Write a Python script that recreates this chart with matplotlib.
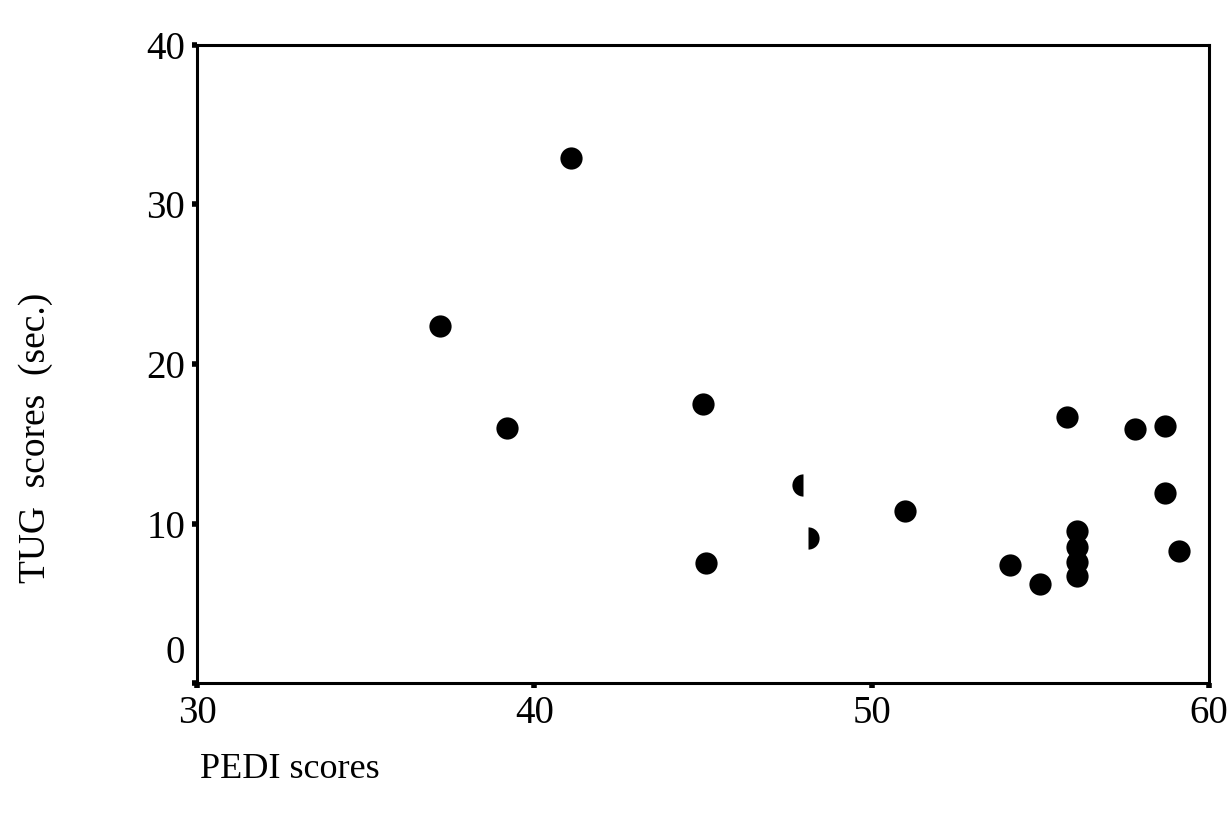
import matplotlib
matplotlib.use("Agg")
import matplotlib.pyplot as plt
import matplotlib.transforms as mtransforms

# PEDI vs TUG scores
pedi_full = [37.2, 39.2, 41.1, 45.0, 45.1, 51.0, 55.8, 57.8, 58.7, 58.7, 59.1,
             54.1, 55.0, 56.1, 56.1, 56.1, 56.1]
tug_full = [22.4, 16.0, 32.9, 17.5, 7.5, 10.8, 16.7, 15.9, 16.1, 11.9, 8.3,
            7.4, 6.2, 9.5, 8.5, 7.6, 6.7]
# two points only half printed in the scan
pedi_half = [47.97, 48.1]
tug_half = [12.4, 9.1]
half_side = ["left", "right"]

INK = "#000000"
plt.rcParams["font.family"] = ["Liberation Serif", "DejaVu Serif"]

fig = plt.figure(figsize=(12.27, 8.18), dpi=100)
ax = fig.add_axes([197 / 1227, 1 - 683 / 818, (1209 - 197) / 1227, (683 - 45) / 818])

ax.plot(pedi_full, tug_full, "o", color=INK, markersize=16, markeredgewidth=0, linestyle="none")
for x, y, side in zip(pedi_half, tug_half, half_side):
    ax.plot([x], [y], "o", color=INK, markersize=16, markeredgewidth=0,
            fillstyle=side, markerfacecoloralt="none", linestyle="none")

ax.set_xlim(30, 60)
ax.set_ylim(0, 40)
ax.set_xticks([30, 40, 50, 60])
ax.set_yticks([0, 10, 20, 30, 40])
for s in ax.spines.values():
    s.set_linewidth(2.2)
ax.tick_params(length=3.5, width=4, labelsize=28, pad=5)

# the "0" sits above the corner in the original, clear of the "30"
zero_lbl = ax.yaxis.get_major_ticks()[0].label1
zero_lbl.set_verticalalignment("bottom")
zero_lbl.set_transform(zero_lbl.get_transform()
                       + mtransforms.ScaledTranslation(0, 8 / 72, fig.dpi_scale_trans))

fig.text(200 / 1227, 1 - 770 / 818, "PEDI scores", fontsize=26, ha="left", va="center")
fig.text(36 / 1227, 1 - 438 / 818, "TUG  scores  (sec.)", fontsize=27, rotation=90,
         ha="center", va="center")

fig.savefig("out.png", dpi=100, facecolor="white")
